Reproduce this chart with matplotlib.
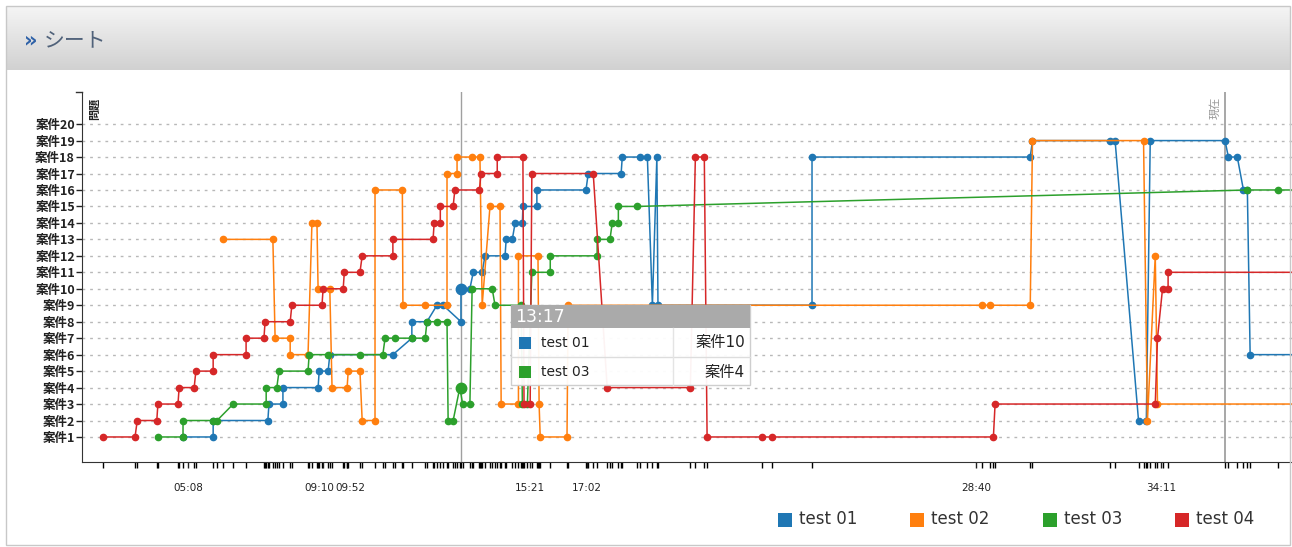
import matplotlib
matplotlib.use("Agg")
import matplotlib.pyplot as plt
from matplotlib.patches import Rectangle
from matplotlib.lines import Line2D
from matplotlib.transforms import blended_transform_factory
import numpy as np

plt.rcParams['font.family'] = ['DejaVu Sans', 'Noto Sans CJK JP']

# ---------------- data (time in seconds, value = 案件 number) ----------------
series_names = ["test 01", "test 02", "test 03", "test 04"]
series_colors = ["#1f77b4", "#ff7f0e", "#2ca02c", "#d62728"]

t01 = [299, 353, 353, 451, 453, 478, 478, 541, 543, 559, 562, 675, 709, 709, 736, 754, 765, 797, 797, 813,
       819, 835, 840, 876, 878, 889, 894, 907, 908, 933, 933, 1021, 1025, 1084, 1086, 1118, 1131, 1140, 1148, 1150,
       1426, 1426, 1817, 1821, 1960, 1969, 2011, 2025, 2032, 2166, 2172, 2188, 2199, 2206, 2211, 2330]
v01 = [1, 1, 2, 2, 3, 3, 4, 4, 5, 5, 6, 6, 7, 8, 8, 9, 9, 8, 10, 10,
       11, 11, 12, 12, 13, 13, 14, 14, 15, 15, 16, 16, 17, 17, 18, 18, 18, 9, 18, 9,
       9, 18, 18, 19, 19, 19, 2, 2, 19, 19, 18, 18, 16, 16, 6, 6]

t02 = [371, 460, 464, 491, 491, 523, 530, 539, 541, 562, 566, 593, 595, 616, 620, 643, 643, 692, 693, 733,
       772, 772, 790, 790, 817, 831, 835, 849, 867, 869, 900, 900, 935, 937, 939, 987, 989, 1731, 1745, 1817,
       1821, 2020, 2027, 2041, 2045, 2330]
v02 = [13, 13, 7, 7, 6, 6, 14, 14, 10, 10, 4, 4, 5, 5, 2, 2, 16, 16, 9, 9,
       9, 17, 17, 18, 18, 18, 9, 15, 15, 3, 3, 12, 12, 3, 1, 1, 9, 9, 9, 9,
       19, 19, 2, 12, 3, 3]

t03 = [254, 299, 299, 353, 360, 389, 448, 448, 467, 471, 523, 525, 559, 616, 657, 661, 679, 709, 733, 736,
       754, 772, 774, 783, 795, 800, 813, 817, 853, 858, 905, 907, 916, 924, 957, 957, 1041, 1041, 1064, 1068,
       1079, 1079, 1113, 2206, 2261, 2330]
v03 = [1, 1, 2, 2, 2, 3, 3, 4, 4, 5, 5, 6, 6, 6, 6, 7, 7, 7, 7, 8,
       8, 8, 2, 2, 4, 3, 3, 10, 10, 9, 9, 3, 3, 11, 11, 12, 12, 13, 13, 14,
       14, 15, 15, 16, 16, 16]

t04 = [156, 213, 217, 252, 254, 290, 292, 319, 322, 353, 353, 412, 412, 444, 446, 491, 494, 548, 550, 586,
       588, 616, 620, 675, 675, 747, 749, 760, 760, 783, 786, 830, 833, 862, 862, 908, 910, 921, 924, 1034,
       1059, 1208, 1217, 1233, 1238, 1337, 1355, 1751, 1754, 2041, 2045, 2054, 2064, 2064, 2330]
v04 = [1, 1, 2, 2, 3, 3, 4, 4, 5, 5, 6, 6, 7, 7, 8, 8, 9, 9, 10, 10,
       11, 11, 12, 12, 13, 13, 14, 14, 15, 15, 16, 16, 17, 17, 18, 18, 3, 3, 17, 17,
       4, 4, 18, 18, 1, 1, 1, 1, 3, 3, 7, 10, 10, 11, 11]

y_levels = list(range(1, 21))
y_labels = [f"案件{i}" for i in y_levels]

x_label_times = [308, 550, 592, 921, 1022, 1720, 2051]
x_label_texts = ["05:08", "09:10", "09:52", "15:21", "17:02", "28:40", "34:11"]

hover_time = 797
hover_label = "13:17"
hover_rows = [("test 01", "案件10", 0, 10), ("test 03", "案件4", 2, 4)]
now_time = 2166

# ---------------- figure ----------------
W, H = 1292, 547
fig = plt.figure(figsize=(W / 100, H / 100), dpi=100)
fig.patch.set_facecolor("white")


def fx(x):
    return x / W


def fy(y):
    return 1 - y / H


# header band with gradient
hax = fig.add_axes([fx(7), fy(70), (1290 - 7) / W, (70 - 6) / H])
grad = np.linspace(0, 1, 64).reshape(-1, 1)
cols = np.array([0.96, 0.96, 0.96])[None, :] * (1 - grad) + np.array([0.82, 0.82, 0.82])[None, :] * grad
hax.imshow(np.repeat(cols[:, None, :], 2, axis=1), aspect="auto", extent=[0, 1, 0, 1])
hax.set_axis_off()
fig.text(fx(24), fy(40), "»", color="#2f62a8", fontsize=15, va="center", ha="left", weight="bold")
fig.text(fx(44), fy(40), "シート", color="#50627a", fontsize=15, va="center", ha="left",
         family=["Noto Sans CJK JP", "DejaVu Sans"])

# panel border
fig.add_artist(Rectangle((fx(6), fy(545)), (1290 - 6) / W, (545 - 6) / H, transform=fig.transFigure,
                         fill=False, edgecolor="#c8c8c8", lw=1))

# main axes
ax = fig.add_axes([fx(82), fy(462), (1292 - 82) / W, (462 - 92) / H])
ax.set_xlim(118, 2286)
ax.set_ylim(-0.52, 21.95)

for v in y_levels:
    ax.axhline(v, color="#b8b8b8", lw=1, ls=(0, (2, 3.5)), zorder=0)

ax.axvline(hover_time, color="#a0a0a0", lw=1, zorder=1)
ax.axvline(now_time, color="#a0a0a0", lw=1.3, zorder=1)
ax.text(2157, 21.65, "現在", rotation=90, ha="right", va="top", fontsize=8, color="#999999")
ax.text(141, 21.6, "問題", rotation=90, ha="center", va="top", fontsize=8, color="#222222", weight="bold")

all_t = [t01, t02, t03, t04]
all_v = [v01, v02, v03, v04]
for ts, vs, c in zip(all_t, all_v, series_colors):
    ax.plot(ts, vs, color=c, lw=1.1, marker="o", markersize=4.5, zorder=3, clip_on=True)

# hover highlight points
for name, txt, idx, val in hover_rows:
    ax.plot([hover_time], [val], marker="o", markersize=7.5, color=series_colors[idx], zorder=4)

# axes styling
for s in ["top", "right"]:
    ax.spines[s].set_visible(False)
ax.spines["left"].set_color("#333333")
ax.spines["bottom"].set_color("#333333")

ax.set_yticks(y_levels)
ax.set_yticklabels(y_labels, fontsize=9, weight="bold", family=["Noto Sans CJK JP", "DejaVu Sans"])
ax.tick_params(axis="y", length=4, width=1, pad=1, colors="#222222")
ax.plot([-0.005, 0], [1, 1], transform=ax.transAxes, color="#333333", lw=1, clip_on=False)

# x ticks: labels drawn as text so that the two crowded ones sit side by side
ax.set_xticks(x_label_times)
ax.set_xticklabels([])
minor = sorted(set(t for ts in all_t for t in ts if 118 <= t <= 2286))
ax.set_xticks(minor, minor=True)
ax.tick_params(axis="x", which="major", length=4, width=1, colors="#222222")
ax.tick_params(axis="x", which="minor", length=4, width=1)
trans = blended_transform_factory(ax.transData, fig.transFigure)
mid = (x_label_times[1] + x_label_times[2]) / 2
for t, lab in zip(x_label_times, x_label_texts):
    if lab == "09:10":
        ax.text(mid - 1, fy(488), lab, transform=trans, ha="right", va="center", fontsize=7.5, color="#222222")
    elif lab == "09:52":
        ax.text(mid + 1, fy(488), lab, transform=trans, ha="left", va="center", fontsize=7.5, color="#222222")
    else:
        ax.text(t, fy(488), lab, transform=trans, ha="center", va="center", fontsize=7.5, color="#222222")

# tooltip
fig.add_artist(Rectangle((fx(511), fy(385)), (750 - 511) / W, (385 - 305) / H, transform=fig.transFigure,
                         facecolor="white", edgecolor="#cccccc", lw=1, alpha=0.95, zorder=5))
fig.add_artist(Rectangle((fx(511), fy(328)), (750 - 511) / W, (328 - 305) / H, transform=fig.transFigure,
                         facecolor="#aaaaaa", edgecolor="none", zorder=6))
fig.text(fx(515), fy(317), hover_label, color="white", fontsize=12.5, va="center", ha="left", zorder=7)
fig.add_artist(Line2D([fx(511), fx(750)], [fy(357), fy(357)], transform=fig.transFigure,
                      color="#dddddd", lw=1, zorder=6))
fig.add_artist(Line2D([fx(673), fx(673)], [fy(328), fy(385)], transform=fig.transFigure,
                      color="#e4e4e4", lw=1, zorder=6))
for k, (name, txt, idx, val) in enumerate(hover_rows):
    yc = 343 + 29 * k
    fig.add_artist(Rectangle((fx(519), fy(yc + 6)), 12 / W, 12 / H, transform=fig.transFigure,
                             facecolor=series_colors[idx], edgecolor="none", zorder=7))
    fig.text(fx(541), fy(yc), name, fontsize=10, va="center", ha="left", color="#222222", zorder=7)
    fig.text(fx(745), fy(yc), txt, fontsize=11, va="center", ha="right", color="#222222", zorder=7)

# legend
legend_x = [778, 910, 1043, 1175]
for lx, name, c in zip(legend_x, series_names, series_colors):
    fig.add_artist(Rectangle((fx(lx), fy(527)), 14 / W, 14 / H, transform=fig.transFigure,
                             facecolor=c, edgecolor="none"))
    fig.text(fx(lx + 21), fy(519), name, fontsize=12, va="center", ha="left", color="#333333")

fig.savefig("out.png", dpi=100)
